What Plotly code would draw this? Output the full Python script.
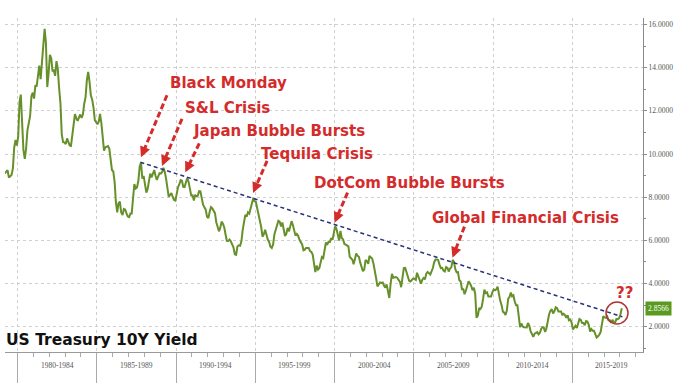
import math
import pandas as pd
import plotly.graph_objects as go

# ---------------- data ----------------
yield_1979 = [9.10, 9.10, 9.12, 9.18, 9.25, 8.91, 8.95, 9.03, 9.33, 10.30, 10.65, 10.39]
yield_1980 = [10.80, 12.41, 12.75, 11.47, 10.18, 9.78, 10.25, 11.10, 11.51, 11.75, 12.68, 12.84]
yield_1981 = [12.57, 13.19, 13.12, 13.68, 14.10, 13.47, 14.28, 14.94, 15.80, 15.15, 13.10, 13.72]
yield_1982 = [14.59, 14.43, 13.86, 13.87, 13.62, 14.30, 13.95, 13.06, 12.34, 10.91, 10.55, 10.54]
yield_1983 = [10.46, 10.72, 10.51, 10.40, 10.38, 10.85, 11.38, 11.85, 11.65, 11.54, 11.69, 11.83]
yield_1984 = [11.67, 11.84, 12.32, 12.63, 13.41, 13.80, 13.36, 12.72, 12.52, 12.16, 11.57, 11.50]
yield_1985 = [11.38, 11.51, 11.86, 11.43, 10.85, 10.16, 10.31, 10.33, 10.37, 10.24, 9.78, 9.26]
yield_1986 = [9.19, 8.70, 7.78, 7.30, 7.71, 7.80, 7.30, 7.17, 7.45, 7.43, 7.25, 7.11]
yield_1987 = [7.08, 7.25, 7.25, 8.02, 8.61, 8.40, 8.45, 8.76, 9.42, 9.60, 8.86, 8.99]
yield_1988 = [8.67, 8.21, 8.37, 8.72, 9.09, 8.92, 9.06, 9.26, 8.98, 8.80, 8.96, 9.11]
yield_1989 = [9.09, 9.17, 9.36, 9.18, 8.86, 8.28, 8.02, 8.11, 8.19, 8.01, 7.87, 7.84]
yield_1990 = [8.21, 8.47, 8.59, 8.79, 8.76, 8.48, 8.47, 8.75, 8.89, 8.72, 8.39, 8.08]
yield_1991 = [8.09, 7.85, 8.11, 8.04, 8.07, 8.28, 8.27, 7.90, 7.65, 7.53, 7.42, 7.09]
yield_1992 = [7.03, 7.34, 7.54, 7.48, 7.39, 7.26, 6.84, 6.59, 6.42, 6.59, 6.87, 6.77]
yield_1993 = [6.60, 6.26, 5.98, 5.97, 6.04, 5.96, 5.81, 5.68, 5.36, 5.33, 5.72, 5.77]
yield_1994 = [5.75, 5.97, 6.48, 6.97, 7.18, 7.10, 7.30, 7.24, 7.46, 7.74, 7.96, 7.81]
yield_1995 = [7.78, 7.47, 7.20, 7.06, 6.63, 6.17, 6.28, 6.49, 6.20, 6.04, 5.93, 5.71]
yield_1996 = [5.65, 5.81, 6.27, 6.51, 6.74, 6.91, 6.87, 6.64, 6.83, 6.53, 6.20, 6.30]
yield_1997 = [6.58, 6.42, 6.69, 6.89, 6.71, 6.49, 6.22, 6.30, 6.21, 6.03, 5.88, 5.81]
yield_1998 = [5.54, 5.57, 5.65, 5.64, 5.65, 5.50, 5.46, 5.34, 4.81, 4.53, 4.83, 4.65]
yield_1999 = [4.72, 5.00, 5.23, 5.18, 5.54, 5.90, 5.79, 5.94, 5.92, 6.11, 6.03, 6.28]
yield_2000 = [6.66, 6.52, 6.26, 5.99, 6.44, 6.10, 6.05, 5.83, 5.80, 5.74, 5.72, 5.24]
yield_2001 = [5.16, 5.10, 4.89, 5.14, 5.39, 5.28, 5.24, 4.97, 4.73, 4.57, 4.65, 5.09]
yield_2002 = [5.04, 4.91, 5.28, 5.21, 5.16, 4.93, 4.65, 4.26, 3.87, 3.94, 4.05, 4.03]
yield_2003 = [4.05, 3.90, 3.81, 3.96, 3.57, 3.33, 3.98, 4.45, 4.27, 4.29, 4.30, 4.27]
yield_2004 = [4.15, 4.08, 3.83, 4.35, 4.72, 4.73, 4.50, 4.28, 4.13, 4.10, 4.19, 4.23]
yield_2005 = [4.22, 4.17, 4.50, 4.34, 4.14, 4.00, 4.18, 4.26, 4.20, 4.46, 4.54, 4.47]
yield_2006 = [4.42, 4.57, 4.72, 4.99, 5.11, 5.11, 5.09, 4.88, 4.72, 4.73, 4.60, 4.56]
yield_2007 = [4.76, 4.72, 4.56, 4.69, 4.75, 5.10, 5.00, 4.67, 4.52, 4.53, 4.15, 4.10]
yield_2008 = [3.74, 3.74, 3.51, 3.68, 3.88, 4.10, 4.01, 3.89, 3.69, 3.81, 3.53, 2.42]
yield_2009 = [2.52, 2.87, 2.82, 2.93, 3.29, 3.72, 3.56, 3.59, 3.40, 3.39, 3.40, 3.59]
yield_2010 = [3.73, 3.69, 3.73, 3.85, 3.42, 3.20, 3.01, 2.70, 2.65, 2.54, 2.76, 3.29]
yield_2011 = [3.39, 3.58, 3.41, 3.46, 3.17, 3.00, 3.00, 2.30, 1.98, 2.15, 2.01, 1.98]
yield_2012 = [1.97, 1.97, 2.17, 2.05, 1.80, 1.62, 1.53, 1.68, 1.72, 1.75, 1.65, 1.72]
yield_2013 = [1.91, 1.98, 1.96, 1.76, 1.93, 2.30, 2.58, 2.74, 2.81, 2.62, 2.72, 2.90]
yield_2014 = [2.86, 2.71, 2.72, 2.71, 2.56, 2.60, 2.54, 2.42, 2.53, 2.30, 2.33, 2.21]
yield_2015 = [1.88, 1.98, 2.04, 1.94, 2.20, 2.36, 2.32, 2.17, 2.17, 2.07, 2.26, 2.24]
yield_2016 = [2.09, 1.78, 1.89, 1.81, 1.81, 1.64, 1.50, 1.56, 1.63, 1.76, 2.14, 2.49]
yield_2017 = [2.43, 2.42, 2.48, 2.30, 2.30, 2.19, 2.32, 2.21, 2.20, 2.36, 2.35, 2.40]
yield_2018 = [2.58, 2.8566]

period_labels = ["1980-1984", "1985-1989", "1990-1994", "1995-1999",
                 "2000-2004", "2005-2009", "2010-2014", "2015-2019"]
period_mid_dates = ["1982-07-01", "1987-07-01", "1992-07-01", "1997-07-01",
                    "2002-07-01", "2007-07-01", "2012-07-01", "2017-07-01"]

event_labels = ["Black Monday", "S&L Crisis", "Japan Bubble Bursts", "Tequila Crisis",
                "DotCom Bubble Bursts", "Global Financial Crisis"]
event_dates = ["1987-10-15", "1989-02-10", "1990-08-01", "1994-11-10", "2000-01-01", "2007-06-10"]
event_values = [9.85, 9.45, 9.15, 8.2, 6.82, 5.2]

trend_dates = ["1987-10-01", "2018-03-01"]
trend_values = [9.62, 2.46]

last_value = 2.8566
y_ticks = [2, 4, 6, 8, 10, 12, 14, 16]

# ---------------- build ----------------
values = (yield_1979 + yield_1980 + yield_1981 + yield_1982 + yield_1983 + yield_1984 +
          yield_1985 + yield_1986 + yield_1987 + yield_1988 + yield_1989 + yield_1990 +
          yield_1991 + yield_1992 + yield_1993 + yield_1994 + yield_1995 + yield_1996 +
          yield_1997 + yield_1998 + yield_1999 + yield_2000 + yield_2001 + yield_2002 +
          yield_2003 + yield_2004 + yield_2005 + yield_2006 + yield_2007 + yield_2008 +
          yield_2009 + yield_2010 + yield_2011 + yield_2012 + yield_2013 + yield_2014 +
          yield_2015 + yield_2016 + yield_2017 + yield_2018)
dates = pd.date_range("1979-01-01", periods=len(values), freq="MS") + pd.Timedelta(days=14)

RED = "#d42b2b"
GREEN = "#66902a"
W, H = 679, 386
ML, MR, MT, MB = 5, 36, 18, 34
PW, PH = W - ML - MR, H - MT - MB


def px_to_paper(px, py):
    return (px - ML) / PW, (H - MB - py) / PH


fig = go.Figure()

fig.add_trace(go.Scatter(x=dates, y=values, mode="lines",
                         line=dict(color=GREEN, width=2), hoverinfo="skip"))
fig.add_trace(go.Scatter(x=trend_dates, y=trend_values, mode="lines",
                         line=dict(color="#27327a", width=1.5, dash="4px,3px"), hoverinfo="skip"))

annotations = []
shapes = []

text_pos = [(168, 83), (183, 108), (191, 131), (259, 154), (312, 183), (430, 218)]
tails = [(26, -62), (20, -47), (14, -29), (14, -32), (13, -30), (12, -31)]

for lab, d, v, (tx, ty), (dx, dy) in zip(event_labels, event_dates, event_values, text_pos, tails):
    px, py = px_to_paper(tx, ty)
    annotations.append(dict(text=lab, x=px, y=py, xref="paper", yref="paper",
                            xanchor="left", yanchor="middle", showarrow=False,
                            font=dict(family="DejaVu Sans", size=15, color=RED, weight="bold")))
    L = math.hypot(dx, dy)
    ux, uy = dx / L, dy / L
    head = 7
    shapes.append(dict(type="line", xref="x", yref="y",
                       xsizemode="pixel", ysizemode="pixel",
                       xanchor=d, yanchor=v,
                       x0=dx, y0=-dy, x1=ux * head, y1=-uy * head,
                       line=dict(color=RED, width=3, dash="6px,3px")))
    annotations.append(dict(text="", x=d, y=v, xref="x", yref="y", showarrow=True,
                            ax=ux * (head + 2), ay=uy * (head + 2), arrowhead=2, arrowsize=0.7,
                            arrowwidth=3, arrowcolor=RED))

for lab, d in zip(period_labels, period_mid_dates):
    annotations.append(dict(text=lab, x=d, y=-13 / PH, xref="x", yref="paper",
                            xanchor="center", yanchor="middle", showarrow=False,
                            font=dict(family="Liberation Serif", size=7.5, color="#555555")))

tx, ty = px_to_paper(4, 340)
annotations.append(dict(text="US Treasury 10Y Yield", x=tx, y=ty, xref="paper", yref="paper",
                        xanchor="left", yanchor="middle", showarrow=False,
                        font=dict(family="DejaVu Sans", size=15.5, color="#111111", weight="bold")))

qx, qy = px_to_paper(614, 293)
annotations.append(dict(text="??", x=qx, y=qy, xref="paper", yref="paper",
                        xanchor="left", yanchor="middle", showarrow=False,
                        font=dict(family="DejaVu Sans", size=15, color=RED, weight="bold")))

annotations.append(dict(text=f"{last_value:.4f}", x=1, y=last_value, xref="paper", yref="y",
                        xanchor="left", yanchor="middle", xshift=2, showarrow=False,
                        bgcolor="#5a9a1e", borderpad=2,
                        font=dict(family="Liberation Serif", size=7.5, color="white")))

cx0, cy0 = px_to_paper(606, 324)
cx1, cy1 = px_to_paper(628, 302)
shapes.append(dict(type="circle", xref="paper", yref="paper", x0=cx0, y0=cy0, x1=cx1, y1=cy1,
                   line=dict(color="#b03434", width=1.5)))

fig.update_layout(
    width=W, height=H,
    margin=dict(l=ML, r=MR, t=MT, b=MB),
    paper_bgcolor="white", plot_bgcolor="white",
    showlegend=False,
    annotations=annotations,
    shapes=shapes,
    xaxis=dict(type="date", range=["1979-03-17", "2019-06-18"],
               tick0="1980-01-01", dtick="M60", showticklabels=False,
               ticks="outside", ticklen=30, tickcolor="#aaaaaa", tickwidth=1,
               showgrid=True, gridcolor="#cfcfcf", griddash="dot", gridwidth=1,
               showline=True, linecolor="#9a9a9a", linewidth=1,
               minor=dict(dtick="M12", tick0="1980-01-01", ticks="outside", ticklen=4,
                          tickcolor="#aaaaaa", showgrid=False),
               zeroline=False),
    yaxis=dict(side="right", range=[0.83, 16.3], tickvals=y_ticks,
               ticktext=[f"{v:.4f}" for v in y_ticks],
               tickfont=dict(family="Liberation Serif", size=7.5, color="#555555"),
               ticks="outside", ticklen=3, tickcolor="#8a8a8a",
               showgrid=True, gridcolor="#cfcfcf", griddash="dot", gridwidth=1,
               showline=True, linecolor="#8a8a8a", linewidth=1,
               minor=dict(dtick=1, ticks="outside", ticklen=2, tickcolor="#8a8a8a", showgrid=False),
               zeroline=False),
)

fig.write_html("out.html", config={"displayModeBar": False},
               post_script="document.body.style.margin='0';")
